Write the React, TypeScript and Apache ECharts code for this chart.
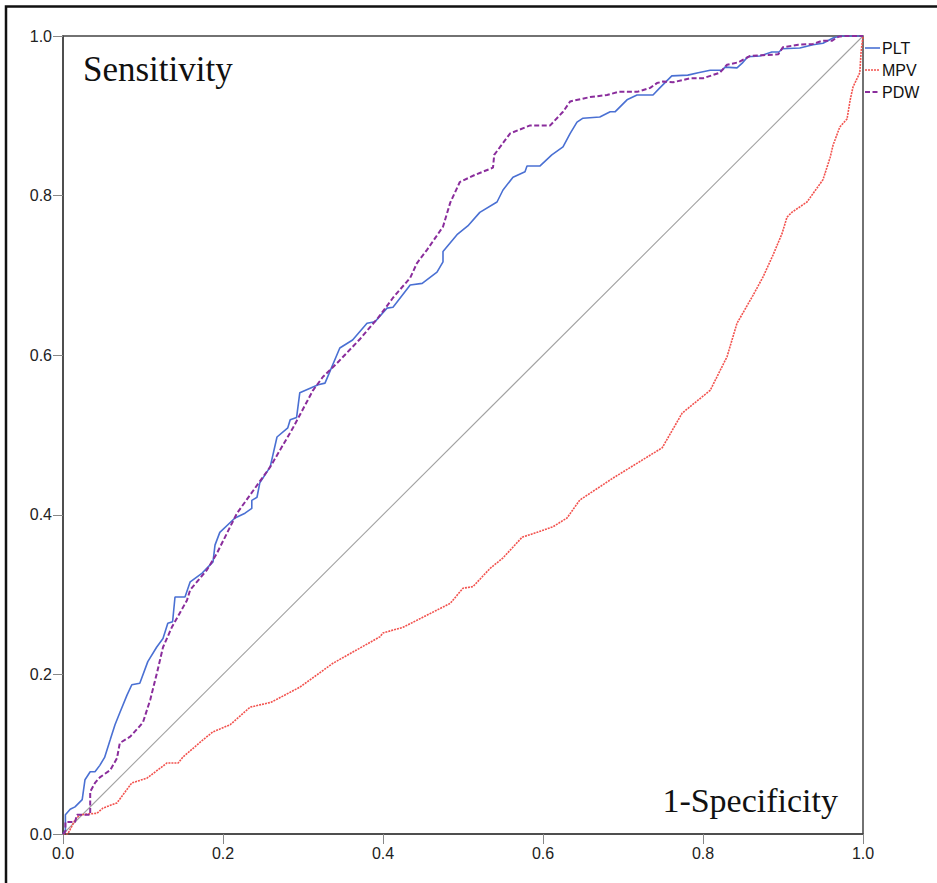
import React, { useEffect, useRef } from "react";
import * as echarts from "echarts";

const seriesNames = ["PLT", "MPV", "PDW"];
const seriesColors = ["#4a70d3", "#f2524e", "#8a2d9c"];

const pltX = [0, 0.003, 0.003, 0.009, 0.015, 0.024, 0.0275, 0.034, 0.04, 0.046, 0.052, 0.059, 0.065, 0.071, 0.08, 0.086, 0.096, 0.106, 0.117, 0.125, 0.131, 0.137, 0.14, 0.1525, 0.159, 0.174, 0.1875, 0.19, 0.196, 0.215, 0.2275, 0.236, 0.236, 0.2425, 0.246, 0.259, 0.2675, 0.281, 0.284, 0.292, 0.296, 0.319, 0.3275, 0.346, 0.362, 0.38, 0.39, 0.405, 0.4125, 0.434, 0.449, 0.4675, 0.475, 0.475, 0.4925, 0.506, 0.521, 0.5425, 0.55, 0.5625, 0.5775, 0.58, 0.596, 0.611, 0.625, 0.634, 0.6425, 0.65, 0.671, 0.684, 0.69, 0.705, 0.7175, 0.7375, 0.746, 0.756, 0.761, 0.781, 0.794, 0.809, 0.824, 0.8275, 0.8425, 0.849, 0.856, 0.871, 0.886, 0.895, 0.899, 0.921, 0.9375, 0.95, 0.9625, 0.971, 1];
const pltY = [0, 0.004, 0.024, 0.031, 0.034, 0.043, 0.068, 0.078, 0.078, 0.086, 0.096, 0.118, 0.137, 0.152, 0.174, 0.187, 0.189, 0.216, 0.234, 0.245, 0.264, 0.266, 0.297, 0.297, 0.316, 0.327, 0.341, 0.362, 0.378, 0.396, 0.402, 0.408, 0.418, 0.422, 0.44, 0.46, 0.4975, 0.509, 0.519, 0.522, 0.553, 0.563, 0.565, 0.609, 0.619, 0.64, 0.642, 0.659, 0.66, 0.688, 0.69, 0.704, 0.717, 0.73, 0.751, 0.762, 0.779, 0.792, 0.807, 0.823, 0.83, 0.837, 0.837, 0.851, 0.861, 0.878, 0.892, 0.897, 0.8985, 0.905, 0.905, 0.92, 0.926, 0.926, 0.935, 0.945, 0.95, 0.951, 0.954, 0.957, 0.957, 0.961, 0.96, 0.966, 0.974, 0.975, 0.98, 0.98, 0.984, 0.985, 0.989, 0.991, 0.9975, 1, 1];

const mpvX = [0, 0.006, 0.015, 0.021, 0.0425, 0.05, 0.0675, 0.086, 0.105, 0.13, 0.144, 0.15, 0.175, 0.1875, 0.209, 0.234, 0.26, 0.296, 0.3375, 0.396, 0.4, 0.425, 0.484, 0.5, 0.5125, 0.534, 0.55, 0.574, 0.5925, 0.6125, 0.63, 0.646, 0.6875, 0.749, 0.774, 0.809, 0.83, 0.8425, 0.8625, 0.875, 0.8875, 0.899, 0.905, 0.911, 0.93, 0.95, 0.959, 0.9625, 0.971, 0.98, 0.984, 0.9875, 0.996, 0.9975, 1];
const mpvY = [0, 0, 0.0175, 0.024, 0.026, 0.0325, 0.039, 0.064, 0.07, 0.089, 0.089, 0.0965, 0.118, 0.128, 0.137, 0.159, 0.165, 0.184, 0.214, 0.247, 0.252, 0.259, 0.289, 0.308, 0.31, 0.333, 0.346, 0.372, 0.378, 0.385, 0.396, 0.4185, 0.446, 0.484, 0.5275, 0.556, 0.598, 0.64, 0.675, 0.698, 0.7255, 0.753, 0.773, 0.779, 0.792, 0.82, 0.848, 0.863, 0.886, 0.896, 0.92, 0.936, 0.954, 0.979, 1];

const pdwX = [0, 0.003, 0.003, 0.015, 0.0175, 0.034, 0.034, 0.04, 0.046, 0.059, 0.0675, 0.071, 0.084, 0.094, 0.1, 0.109, 0.1175, 0.125, 0.136, 0.155, 0.159, 0.18, 0.1925, 0.2175, 0.234, 0.259, 0.2875, 0.3125, 0.325, 0.3425, 0.371, 0.394, 0.4125, 0.434, 0.4425, 0.455, 0.475, 0.484, 0.496, 0.515, 0.5375, 0.539, 0.559, 0.584, 0.609, 0.625, 0.634, 0.659, 0.68, 0.694, 0.7175, 0.734, 0.7425, 0.75, 0.7625, 0.784, 0.8, 0.821, 0.83, 0.844, 0.859, 0.875, 0.894, 0.9, 0.919, 0.9375, 0.949, 0.961, 0.969, 0.9775, 1];
const pdwY = [0, 0.003, 0.015, 0.015, 0.024, 0.024, 0.053, 0.064, 0.071, 0.08, 0.095, 0.114, 0.122, 0.133, 0.14, 0.168, 0.202, 0.234, 0.259, 0.293, 0.306, 0.331, 0.352, 0.402, 0.425, 0.46, 0.509, 0.556, 0.573, 0.59, 0.62, 0.647, 0.672, 0.697, 0.7155, 0.732, 0.761, 0.791, 0.817, 0.826, 0.835, 0.851, 0.878, 0.888, 0.888, 0.905, 0.918, 0.9235, 0.926, 0.93, 0.93, 0.935, 0.941, 0.943, 0.942, 0.947, 0.947, 0.954, 0.964, 0.967, 0.975, 0.976, 0.977, 0.986, 0.989, 0.99, 0.994, 0.994, 0.999, 1, 1];

const refX = [0, 1];
const refY = [0, 1];

const zip = (xs: number[], ys: number[]) => xs.map((x, i) => [x, ys[i]]);

export default function App() {
  const ref = useRef<HTMLDivElement>(null);
  useEffect(() => {
    document.body.style.margin = "0";
    const chart = echarts.init(ref.current!, null, { renderer: "svg" });
    const axisCommon = {
      type: "value" as const,
      min: 0,
      max: 1,
      interval: 0.2,
      axisLine: { show: true, lineStyle: { color: "#444", width: 1.5 } },
      axisTick: { show: true, length: 10, lineStyle: { color: "#888", width: 1 } },
      splitLine: { show: false },
      axisLabel: {
        fontSize: 16,
        color: "#222",
        fontFamily: "Liberation Sans, Arial, sans-serif",
        margin: 11,
        formatter: (v: number) => v.toFixed(1),
      },
    };
    const lineTypes: any[] = ["solid", [2, 1], [5, 2.5]];
    const lineWidths = [1.6, 1.6, 2];
    const legendGraphics: any[] = [];
    seriesNames.forEach((name, i) => {
      const cy = 48 + i * 22;
      legendGraphics.push({
        type: "line",
        shape: { x1: 865, y1: cy, x2: 880, y2: cy },
        style: { stroke: seriesColors[i], lineWidth: lineWidths[i], lineDash: lineTypes[i] === "solid" ? null : lineTypes[i] },
        silent: true,
      });
      legendGraphics.push({
        type: "text",
        x: 882,
        y: cy,
        style: {
          text: name,
          font: "16px 'Liberation Sans', Arial, sans-serif",
          fill: "#111",
          textAlign: "left",
          textVerticalAlign: "middle",
          verticalAlign: "middle",
        },
      });
    });
    chart.setOption({
      animation: false,
      backgroundColor: "#fff",
      grid: { left: 63, top: 36, width: 800, height: 798, show: true, borderColor: "#444", borderWidth: 1.5 },
      xAxis: { ...axisCommon },
      yAxis: { ...axisCommon },
      series: [
        {
          name: "ref",
          type: "line",
          data: zip(refX, refY),
          symbol: "none",
          silent: true,
          lineStyle: { color: "#a2a2a2", width: 1.1 },
        },
        {
          name: seriesNames[1],
          type: "line",
          data: zip(mpvX, mpvY),
          symbol: "none",
          color: seriesColors[1],
          lineStyle: { color: seriesColors[1], width: lineWidths[1], type: lineTypes[1] },
        },
        {
          name: seriesNames[0],
          type: "line",
          data: zip(pltX, pltY),
          symbol: "none",
          color: seriesColors[0],
          lineStyle: { color: seriesColors[0], width: lineWidths[0] },
        },
        {
          name: seriesNames[2],
          type: "line",
          data: zip(pdwX, pdwY),
          symbol: "none",
          color: seriesColors[2],
          lineStyle: { color: seriesColors[2], width: lineWidths[2], type: lineTypes[2] },
        },
      ],
      graphic: [
        {
          type: "rect",
          shape: { x: 6, y: 6.5, width: 1200, height: 1200 },
          style: { fill: "none", stroke: "#111", lineWidth: 2.5 },
          silent: true,
        },
        {
          type: "text",
          left: 83,
          top: 52,
          style: { text: "Sensitivity", font: "35px 'Liberation Serif', serif", fill: "#111" },
        },
        {
          type: "text",
          right: 99,
          top: 783,
          style: { text: "1-Specificity", font: "34px 'Liberation Serif', serif", fill: "#111" },
        },
        ...legendGraphics,
      ],
    });
    return () => chart.dispose();
  }, []);
  return <div ref={ref} style={{ width: 937, height: 883 }} />;
}
